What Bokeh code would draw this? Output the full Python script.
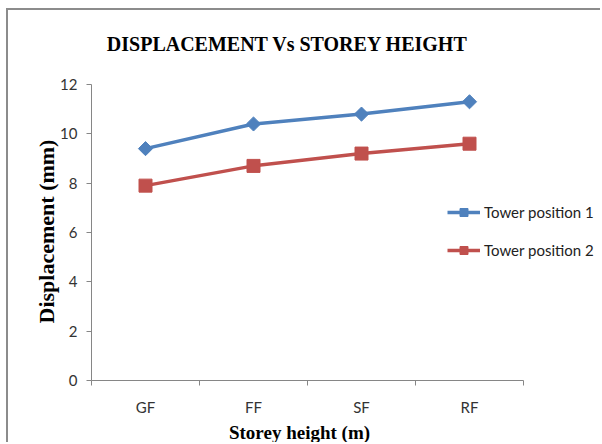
import math
from bokeh.plotting import figure
from bokeh.models import (Range1d, LinearAxis, FixedTicker,
                          Legend, LegendItem, Label, ColumnDataSource)
from bokeh.embed import file_html
from bokeh.resources import INLINE

storeys = ["GF", "FF", "SF", "RF"]
tower_pos_1 = [9.4, 10.4, 10.8, 11.3]
tower_pos_2 = [7.9, 8.7, 9.2, 9.6]
y_ticks = [0, 2, 4, 6, 8, 10, 12]

BLUE = "#4F81BD"
RED = "#C0504D"
AXIS_GREY = "#868686"

n = len(storeys)
xpos = list(range(n))
bounds = [i - 0.5 for i in range(n + 1)]

# The frame covers the whole canvas; the axes are pinned (fixed_location) at the
# corner of the data box so that title, legend and axis titles can sit around it.
W, H = 594, 434
AX_X, AX_Y = 83, 64          # canvas px: y-axis position from left, x-axis from bottom
PX_PER_X = 108.0             # pixels per category
PX_PER_Y = 296.0 / 12
x_start = bounds[0] - AX_X / PX_PER_X
x_end = bounds[0] + (W - AX_X) / PX_PER_X
y_start = -AX_Y / PX_PER_Y
y_end = (H - AX_Y) / PX_PER_Y

p = figure(width=W, height=H,
           x_range=Range1d(x_start, x_end), y_range=Range1d(y_start, y_end),
           x_axis_type=None, y_axis_type=None,
           output_backend="svg", toolbar_location=None,
           min_border_left=0, min_border_right=0,
           min_border_top=0, min_border_bottom=0)
p.outline_line_color = None
p.background_fill_color = "white"
p.border_fill_color = "white"
p.styles = {"margin-left": "6px", "margin-top": "8px",
            "border-left": "2px solid #8c8c8c", "border-top": "2px solid #8c8c8c"}

# y axis
yax = LinearAxis(ticker=FixedTicker(ticks=y_ticks), bounds=(0, 12),
                 fixed_location=bounds[0])
yax.axis_line_color = AXIS_GREY
yax.major_tick_line_color = AXIS_GREY
yax.minor_tick_line_color = None
yax.major_tick_out = 5
yax.major_tick_in = 0
yax.major_label_standoff = 9
yax.major_label_text_font = "Lato"
yax.major_label_text_font_size = "15px"
yax.major_label_text_color = "#333333"
p.add_layout(yax, "left")

# x axis: labels at category centres, tick marks at category boundaries
xax = LinearAxis(ticker=FixedTicker(ticks=xpos, minor_ticks=bounds),
                 major_label_overrides={i: s for i, s in zip(xpos, storeys)},
                 bounds=(bounds[0], bounds[-1]), fixed_location=0)
xax.axis_line_color = AXIS_GREY
xax.major_tick_line_color = None
xax.major_tick_out = 5
xax.major_tick_in = 0
xax.minor_tick_line_color = AXIS_GREY
xax.minor_tick_out = 5
xax.minor_tick_in = 0
xax.major_label_standoff = 12
xax.major_label_text_font = "Lato"
xax.major_label_text_font_size = "15px"
xax.major_label_text_color = "#333333"
p.add_layout(xax, "below")

src = ColumnDataSource(dict(x=xpos, t1=tower_pos_1, t2=tower_pos_2))
l1 = p.line("x", "t1", source=src, line_color=BLUE, line_width=3.5)
m1 = p.scatter("x", "t1", source=src, marker="square", angle=math.pi / 4,
               size=10, fill_color=BLUE, line_color=BLUE)
l2 = p.line("x", "t2", source=src, line_color=RED, line_width=3.5)
m2 = p.scatter("x", "t2", source=src, marker="square", size=13,
               fill_color=RED, line_color=RED)

legend = Legend(items=[LegendItem(label="Tower position 1", renderers=[l1, m1]),
                       LegendItem(label="Tower position 2", renderers=[l2, m2])],
                location=(439, 184))
legend.border_line_color = None
legend.background_fill_alpha = 0
legend.padding = 0
legend.margin = 0
legend.spacing = 18
legend.glyph_width = 33
legend.glyph_height = 20
legend.label_standoff = 4
legend.label_text_font = "Lato"
legend.label_text_font_size = "15px"
legend.label_text_color = "#222222"
p.add_layout(legend)

title = Label(x=279, y=401, x_units="screen", y_units="screen",
              text="DISPLACEMENT Vs STOREY HEIGHT",
              text_align="center", text_baseline="middle",
              text_font="Liberation Serif", text_font_style="bold",
              text_font_size="20px", text_color="black")
p.add_layout(title)

y_title = Label(x=38, y=213, x_units="screen", y_units="screen",
                text="Displacement (mm)", angle=math.pi / 2,
                text_align="center", text_baseline="middle",
                text_font="Liberation Serif", text_font_style="bold",
                text_font_size="22px", text_color="black")
p.add_layout(y_title)

x_title = Label(x=291, y=12, x_units="screen", y_units="screen",
                text="Storey height (m)",
                text_align="center", text_baseline="middle",
                text_font="Liberation Serif", text_font_style="bold",
                text_font_size="19px", text_color="black")
p.add_layout(x_title)

open("out.html", "w").write(file_html(p, INLINE))
